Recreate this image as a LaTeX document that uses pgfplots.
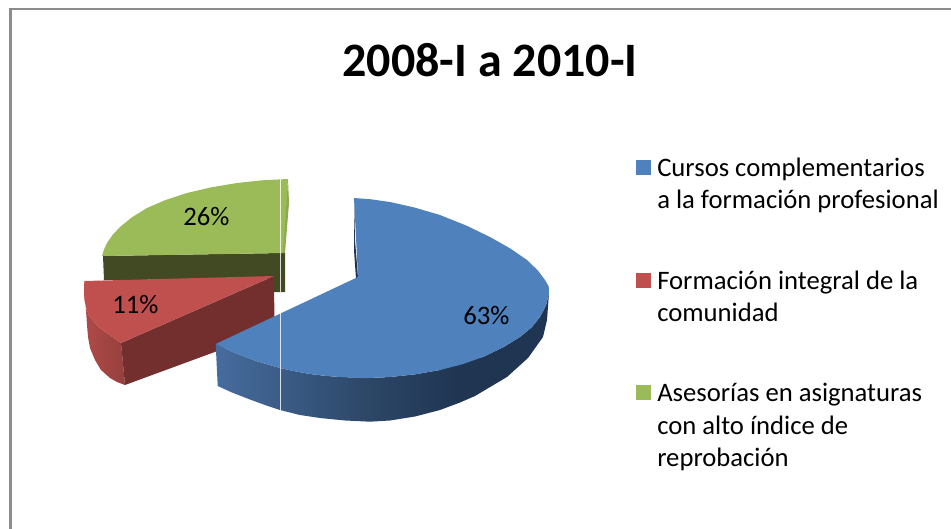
\documentclass[border=0pt]{standalone}
\usepackage{pgfplots}
\pgfplotsset{compat=1.18}
\usepackage{fontspec}
\setmainfont{Carlito}
\definecolor{cblue}{HTML}{4F81BD}
\definecolor{cred}{HTML}{C0504D}
\definecolor{cgreen}{HTML}{9BBB59}
\definecolor{bluedark}{HTML}{1F3552}
\definecolor{blueA}{HTML}{466C9E}
\definecolor{blueB}{HTML}{2C4666}
\definecolor{reddark}{HTML}{722F2E}
\definecolor{redA}{HTML}{AF4A47}
\definecolor{redB}{HTML}{96403E}
\definecolor{greendark}{HTML}{414A22}
\definecolor{greenedge}{HTML}{8CAA50}
\definecolor{frame}{HTML}{8C8C8C}
\begin{document}
\begin{tikzpicture}
\path[use as bounding box] (0,0) rectangle (713.25pt,396.75pt);
\begin{axis}[at={(0,0)},anchor=south west,width=713.25pt,height=396.75pt,scale only axis,
  hide axis,xmin=0,xmax=951,ymin=0,ymax=529,y dir=reverse,clip=true]
% frame
\addplot[draw=frame,line width=2pt] coordinates {(10.8,529) (10.8,9) (951,9)};
% green slice
\addplot[fill=greendark,draw=none] coordinates {(103,256) (283,253) (285,253) (285,292) (274,292) (274,279) (104,280)} -- cycle;
\addplot[fill=cgreen,draw=none] coordinates {(288,179) (262,180.3) (237,183) (211.3,187.3) (187,193) (165.6,200) (147,208) (131.8,217.4) (120,227) (112.5,235) (107,243) (104,249.5) (102,256) (284,253)} -- cycle;
\addplot[fill=greenedge,draw=none] coordinates {(288,179) (289,203) (285,253) (283,253)} -- cycle;
\addplot[draw=white,line width=0.6pt,opacity=0.8] coordinates {(280.7,179) (280.7,292)};
% red slice
\addplot[draw=none,shade,left color=redA,right color=redB] coordinates {(84,281) (84,293) (84.7,301) (86.7,310) (90,317) (95,323) (100.5,328.5) (106.7,333) (121,343) (125,385) (117,382) (110,378) (101,370) (95,360) (90,348) (88,337) (87,325)} -- cycle;
\addplot[fill=reddark,draw=none] coordinates {(121,343) (274,276) (274.5,330) (125,385)} -- cycle;
\addplot[fill=cred,draw=none] coordinates {(84.3,281) (84,293) (84.7,301) (86.7,310) (90,317) (95,323) (100.5,328.5) (106.7,333) (121,343) (274,276)} -- cycle;
% blue slice
\addplot[fill=bluedark,draw=none] coordinates {(354,198) (354,250) (356,279) (358,277) (355,240)} -- cycle;
\addplot[draw=none,shade,left color=blueA,right color=blueB] coordinates {(215.7,344) (217.7,386) (232,392.5) (250,399.5) (265,405) (280,410) (300,415) (320,418) (345,420.5) (370,421.7) (370,378) (340,377) (325,375.8) (310,374) (295,371.3) (280,368) (256,361) (235,353)} -- cycle;
\addplot[draw=none,shade,left color=blueB,right color=bluedark] coordinates {(370,378) (370,421.7) (390,420.5) (415,416.5) (440,410) (460,402.5) (460,362) (440,370) (415.4,374.3) (390,377)} -- cycle;
\addplot[fill=bluedark,draw=none] coordinates {(460,362) (460,402.5) (475,396) (507,377) (528,358) (543,337) (547,320) (549,293) (546,305.5) (540,317) (531.8,327.3) (520,337) (503,347.4) (483,357)} -- cycle;
\addplot[fill=cblue,draw=none] coordinates {(354,198) (371,199.3) (390,202) (414,207.4) (440,215) (466,225.4) (490,237) (510.5,248.6) (527,260) (538,270.6) (545,280) (548.7,286.3) (549,293) (546,305.5) (540,317) (531.8,327.3) (520,337) (503,347.4) (483,357) (462.3,364.3) (440,370) (415.4,374.3) (390,377) (365,378.2) (340,377) (325,375.8) (310,374) (295,371.3) (280,368) (256,361) (235,353) (215.7,344) (358,277)} -- cycle;
\addplot[draw=white,line width=0.6pt,opacity=0.8] coordinates {(280.7,313) (280.7,411)};
% legend keys
\addplot[fill=cblue,draw=none] coordinates {(636,160) (651,160) (651,175) (636,175)} -- cycle;
\addplot[fill=cred,draw=none] coordinates {(636,273) (651,273) (651,288) (636,288)} -- cycle;
\addplot[fill=cgreen,draw=none] coordinates {(636,385) (651,385) (651,400) (636,400)} -- cycle;
% texts
\node[anchor=base,inner sep=0pt,font=\fontsize{36}{43}\selectfont\bfseries] at (axis cs:490,76) {2008-I a 2010-I};
\begin{scope}[every node/.style={anchor=base west,inner sep=0pt,font=\fontsize{20}{24}\selectfont}]
\node at (axis cs:657,176) {Cursos complementarios};
\node at (axis cs:657,208) {a la formación profesional};
\node at (axis cs:657,289) {Formación integral de la};
\node at (axis cs:657,321) {comunidad};
\node at (axis cs:657,401) {Asesorías en asignaturas};
\node at (axis cs:657,434) {con alto índice de};
\node at (axis cs:657,466) {reprobación};
\node at (axis cs:183,225) {26\%};
\node at (axis cs:112,313) {11\%};
\node at (axis cs:463,324) {63\%};
\end{scope}
\end{axis}
\end{tikzpicture}
\end{document}
